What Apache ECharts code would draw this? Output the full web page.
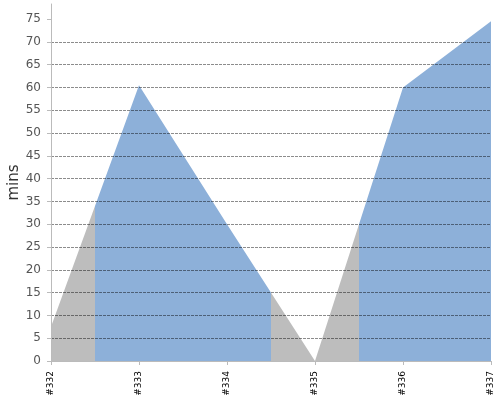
<!DOCTYPE html>
<html>
<head>
<meta charset="utf-8">
<script src="https://cdn.jsdelivr.net/npm/echarts@6/dist/echarts.min.js"></script>
<style>html,body{margin:0;padding:0;background:#fff;}#c{width:500px;height:400px;}</style>
</head>
<body>
<div id="c"></div>
<script>
var categories = ['#332', '#333', '#334', '#335', '#336', '#337'];
var minsValues = [7.5, 60.5, 30, 0, 60, 74.5];
var yTickValues = [0, 5, 10, 15, 20, 25, 30, 35, 40, 45, 50, 55, 60, 65, 70, 75];
var grayColor = '#bdbdbd';
var blueColor = '#8db0d9';

var seriesData = minsValues.map(function (v, i) { return [i, v]; });

var chart = echarts.init(document.getElementById('c'), null, {renderer: 'canvas'});
chart.setOption({
  animation: false,
  backgroundColor: '#fff',
  grid: {left: 51, right: 9, top: 4, bottom: 39, containLabel: false, outerBoundsMode: 'none'},
  xAxis: {
    type: 'value',
    min: 0,
    max: categories.length - 1,
    interval: 1,
    offset: 5,
    axisLine: {show: true, lineStyle: {color: '#bbb', width: 1}},
    axisTick: {show: true, length: 4, lineStyle: {color: '#bbb'}},
    axisLabel: {
      rotate: 90, color: '#000', fontSize: 9, fontFamily: 'DejaVu Sans', margin: 5,
      formatter: function (v) { return categories[Math.round(v)] || ''; }
    },
    splitLine: {show: false}
  },
  yAxis: {
    type: 'value',
    min: 0,
    max: 78.3,
    interval: 5,
    offset: 4,
    z: 5,
    name: 'mins',
    nameLocation: 'middle',
    nameGap: 25,
    nameMoveOverlap: false,
    nameTextStyle: {fontSize: 15, color: '#333', fontFamily: 'DejaVu Sans'},
    axisLine: {show: true, lineStyle: {color: '#bbb', width: 1}},
    axisTick: {show: true, length: 4, lineStyle: {color: '#bbb'}, customValues: yTickValues},
    axisLabel: {color: '#555', fontSize: 12, fontFamily: 'DejaVu Sans', margin: 6, customValues: yTickValues},
    splitLine: {show: true, showMinLine: false, showMaxLine: false, lineStyle: {color: 'rgba(0,0,0,0.45)', type: [3, 1], width: 1}}
  },
  visualMap: {
    show: false,
    type: 'piecewise',
    dimension: 0,
    seriesIndex: 0,
    pieces: [
      {lt: 0.5, color: grayColor},
      {gte: 0.5, lt: 2.5, color: blueColor},
      {gte: 2.5, lt: 3.5, color: grayColor},
      {gte: 3.5, color: blueColor}
    ]
  },
  series: [{
    type: 'line',
    data: seriesData,
    showSymbol: false,
    symbol: 'none',
    lineStyle: {width: 0},
    areaStyle: {opacity: 1},
    z: 2
  }]
});
</script>
</body>
</html>
